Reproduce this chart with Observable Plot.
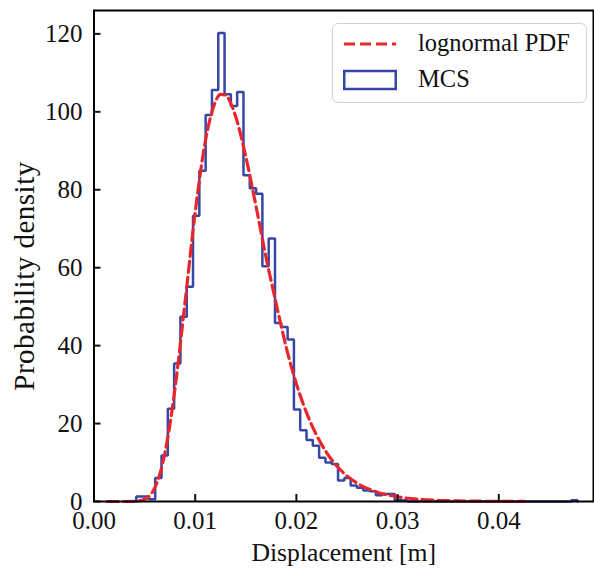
<!DOCTYPE html>
<html>
<head>
<meta charset="utf-8">
<script src="https://cdn.jsdelivr.net/npm/d3@7"></script>
<script src="https://cdn.jsdelivr.net/npm/@observablehq/plot@0.6"></script>
<style>
  body { margin: 0; background: #fff; }
  #wrap { position: relative; width: 594px; height: 571px; }
  #legend { position: absolute; left: 332px; top: 23px; width: 253px; height: 78px;
    border: 1.5px solid #d2d2d2; border-radius: 6px; background: rgba(255,255,255,0.85);
    font-family: "Liberation Serif", "Times New Roman", serif; font-size: 24.5px; color: #111; }
  .item { position: absolute; left: 0; height: 30px; width: 100%; }
  .item svg { position: absolute; left: 10px; top: 0; }
  .item span { position: absolute; left: 85px; top: 50%; transform: translateY(-52%); white-space: nowrap; }
</style>
</head>
<body>
<div id="wrap"></div>
<script>
// ---- data ----
// MCS histogram (density), 70 equal-width bins spanning histStart..histEnd
const histStart = 0.00418;
const histEnd = 0.04779;
const mcsDensity = [
  1.3, 1.3, 0.6, 6.0, 11.8, 23.8, 35.4, 47.4, 55.1, 73.3,
  84.9, 99.2, 105.6, 120.2, 104.5, 101.5, 105.1, 83.7, 80.4, 79.0,
  60.4, 67.5, 45.8, 44.8, 41.6, 23.6, 18.3, 15.8, 14.3, 11.2,
  10.0, 9.6, 5.4, 6.0, 4.1, 3.5, 2.8, 2.6, 1.6, 1.9,
  1.9, 0.3, 0.3, 0, 0, 0, 0, 0, 0, 0,
  0, 0, 0, 0, 0, 0, 0, 0, 0, 0,
  0, 0, 0, 0, 0, 0, 0, 0, 0, 0.3
];
// lognormal PDF curve points
const pdfX = [0.0013, 0.002, 0.003, 0.004, 0.005, 0.006, 0.0065, 0.007, 0.0075, 0.008,
  0.009, 0.010, 0.011, 0.012, 0.0125, 0.013, 0.0135, 0.014, 0.015, 0.016,
  0.017, 0.018, 0.019, 0.020, 0.021, 0.022, 0.023, 0.024, 0.026, 0.028,
  0.030, 0.032, 0.034, 0.036, 0.038, 0.040, 0.0425];
const pdfY = [0, 0, 0, 0.03, 0.56, 3.5, 7.0, 12.3, 19.7, 28.9,
  51.2, 74.2, 92.4, 102.6, 104.5, 104.3, 102.3, 98.8, 88.5, 75.9,
  62.7, 50.8, 39.5, 30.2, 22.8, 17.0, 12.5, 9.1, 4.7, 2.4,
  1.2, 0.6, 0.3, 0.15, 0.08, 0.04, 0.02];
const xTicks = [0, 0.01, 0.02, 0.03, 0.04];
const yTicks = [0, 20, 40, 60, 80, 100, 120];
const xLabel = "Displacement [m]";
const yLabel = "Probability density";
const legendLabels = ["lognormal PDF", "MCS"];

// ---- build ----
const nBins = mcsDensity.length;
const binW = (histEnd - histStart) / nBins;
const steps = [{x: histStart, y: 0}]
  .concat(mcsDensity.map((v, i) => ({x: histStart + i * binW, y: v})))
  .concat([{x: histEnd, y: mcsDensity[nBins - 1]}, {x: histEnd, y: 0}]);
const pdf = pdfX.map((x, i) => ({x, y: pdfY[i]}));

const blue = "#3747a6";
const red = "#e8262b";
const font = '"Liberation Serif", "Times New Roman", serif';

const chart = Plot.plot({
  width: 594,
  height: 571,
  marginLeft: 93.5,
  marginRight: 1,
  marginTop: 10,
  marginBottom: 70,
  style: {fontFamily: font, fontSize: "25px", color: "#111", background: "white"},
  x: {domain: [0, 0.04936]},
  y: {domain: [0, 126]},
  marks: [
    Plot.line(steps, {x: "x", y: "y", curve: "step-after", stroke: blue, strokeWidth: 2.5, strokeLinejoin: "miter"}),
    Plot.line(pdf, {x: "x", y: "y", curve: "monotone-x", stroke: red, strokeWidth: 3.2, strokeDasharray: "11,5"}),
    Plot.axisX({ticks: xTicks, tickFormat: d3.format(".2f"), tickSize: -7, tickPadding: 17, strokeWidth: 2,
      fontSize: 25, label: null}),
    Plot.axisY({ticks: yTicks, tickFormat: d3.format("d"), tickSize: -7, tickPadding: 18.5, strokeWidth: 2,
      fontSize: 25, label: null}),
    Plot.text([xLabel], {frameAnchor: "bottom", lineAnchor: "top", dy: 41, fontSize: 25.7, fill: "#111"}),
    Plot.text([yLabel], {frameAnchor: "left", textAnchor: "middle", lineAnchor: "top", rotate: -90,
      dx: -81, dy: 20, fontSize: 29, fill: "#111", className: "ylabel"}),
    Plot.frame({stroke: "black", strokeWidth: 2})
  ]
});

d3.select(chart).selectAll(".ylabel text").style("letter-spacing", "0.5px");

const wrap = document.getElementById("wrap");
wrap.appendChild(chart);

// legend (inside the axes, upper right)
const legend = document.createElement("div");
legend.id = "legend";
legend.innerHTML = `
  <div class="item" style="top:5px">
    <svg width="54" height="30"><line x1="1" y1="15" x2="53" y2="15" stroke="${red}" stroke-width="3.2" stroke-dasharray="11,5"/></svg>
    <span>${legendLabels[0]}</span>
  </div>
  <div class="item" style="top:41px">
    <svg width="54" height="30"><rect x="1.25" y="6" width="51.5" height="18" fill="none" stroke="${blue}" stroke-width="2.5"/></svg>
    <span>${legendLabels[1]}</span>
  </div>`;
wrap.appendChild(legend);
</script>
</body>
</html>
